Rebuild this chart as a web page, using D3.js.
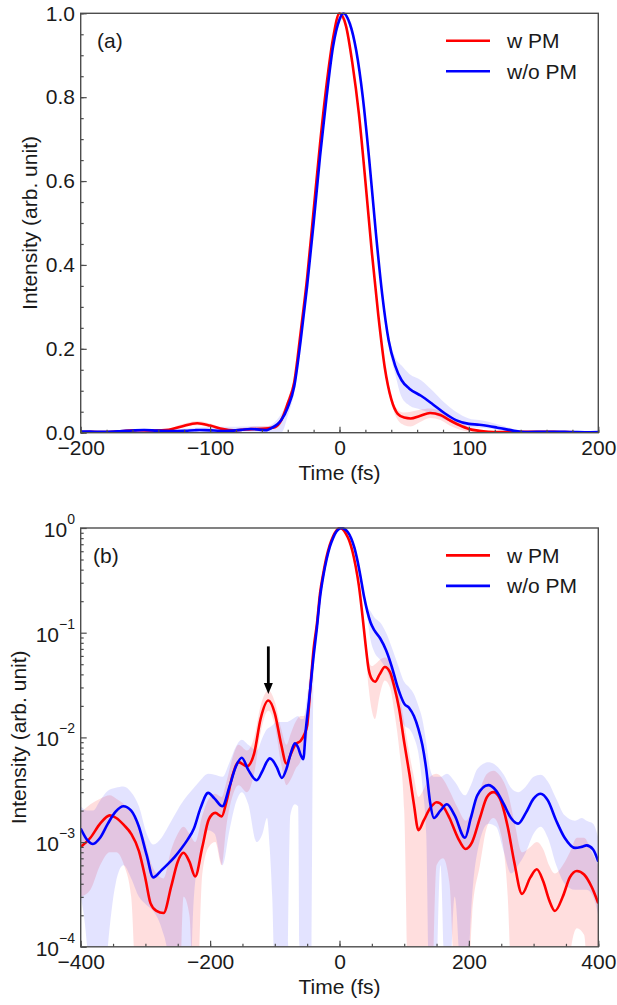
<!DOCTYPE html>
<html><head><meta charset="utf-8">
<script src="https://cdn.jsdelivr.net/npm/d3@7"></script>
<style>
body{margin:0;background:#fff}
svg{display:block}
text{font-family:"Liberation Sans",Arial,Helvetica,sans-serif;fill:#1a1a1a}
</style></head>
<body><svg id="c" width="617" height="1005"></svg>
<script>
// ---------------- data ----------------
const seriesLabels = ["w PM", "w/o PM"];
const seriesColors = ["#ff0000", "#0000ff"];

const wPMTime = [-400,-385,-370,-355,-345,-333,-322,-310,-300,-292,-283,-272,-260,-250,-241,-232,-223,-212,-202,-192,-182,-175,-165,-156,-143,-132,-122,-110,-100,-90,-82,-75,-68,-60,-55,-50,-45,-40,-35,-30,-25,-20,-15,-10,-5,0,5,10,15,20,25,30,35,40,45,50,55,62,70,78,85,92,100,108,115,122,130,140,150,160,170,183,195,205,217,228,238,248,260,270,282,295,305,315,324,333,345,356,367,378,390,400];
const wPMIntensity = [9.0e-4,1.1e-3,1.5e-3,1.8e-3,1.7e-3,1.45e-3,1.2e-3,8.2e-4,4.5e-4,2.6e-4,2.2e-4,2.1e-4,3.8e-4,6.5e-4,7.9e-4,6.5e-4,4.7e-4,9.0e-4,1.65e-3,1.9e-3,1.76e-3,2.4e-3,4.4e-3,5.8e-3,5.3e-3,7.0e-3,1.5e-2,2.25e-2,1.7e-2,8.5e-3,5.6e-3,7.0e-3,8.6e-3,9.3e-3,1.05e-2,1.3e-2,3.0e-2,7.0e-2,0.12,0.24,0.37,0.53,0.69,0.83,0.94,1.0,0.97,0.88,0.76,0.60,0.43,0.28,0.155,0.08,0.045,0.036,0.034,0.040,0.047,0.042,0.030,0.019,0.009,4.5e-3,2.3e-3,1.3e-3,1.6e-3,2.1e-3,2.4e-3,2.2e-3,1.7e-3,1.1e-3,8.6e-4,1.0e-3,1.7e-3,2.7e-3,3.0e-3,2.6e-3,1.4e-3,6.5e-4,3.2e-4,4.6e-4,5.5e-4,4.2e-4,2.8e-4,2.2e-4,3.0e-4,4.6e-4,5.3e-4,4.9e-4,3.7e-4,2.6e-4];
const wPMLower = [3.0e-4,3.5e-4,6e-4,8e-4,8e-4,6e-4,3e-4,1e-5,1e-5,1e-5,1e-5,1e-5,1e-5,1e-5,3e-4,2e-4,1e-5,5e-4,9e-4,1.0e-3,6e-4,1.4e-3,2.8e-3,3.5e-3,3.0e-3,4.5e-3,1.1e-2,1.8e-2,1.3e-2,5.5e-3,3.5e-3,4e-3,5e-3,6e-3,8e-3,1.0e-2,2.2e-2,6.0e-2,0.11,0.225,0.355,0.515,0.675,0.82,0.93,0.99,0.96,0.87,0.75,0.59,0.42,0.27,0.145,0.07,0.03,0.018,0.015,0.025,0.035,0.03,0.017,8e-3,2e-3,1e-5,1e-5,1e-5,1e-5,1e-5,6e-4,7e-4,4e-4,1e-5,1e-5,2e-4,6e-4,1.4e-3,1.7e-3,1.3e-3,3e-4,1e-5,1e-5,1e-5,1e-5,1e-5,1e-5,1e-5,1e-5,8e-5,1.5e-4,1.3e-4,1e-5,1e-5];
const wPMUpper = [1.9e-3,2.3e-3,2.6e-3,2.8e-3,2.6e-3,2.3e-3,1.9e-3,1.4e-3,1.0e-3,6.5e-4,5e-4,4.5e-4,8.5e-4,1.2e-3,1.4e-3,1.2e-3,1.0e-3,1.8e-3,2.6e-3,2.9e-3,2.7e-3,3.7e-3,6.5e-3,8.5e-3,7.5e-3,1.0e-2,2.0e-2,2.8e-2,2.2e-2,1.2e-2,8.5e-3,1.1e-2,1.4e-2,1.6e-2,1.6e-2,1.9e-2,3.8e-2,8.0e-2,0.135,0.255,0.385,0.545,0.705,0.84,0.95,1.0,0.98,0.89,0.77,0.61,0.44,0.29,0.165,0.09,0.055,0.048,0.05,0.055,0.058,0.052,0.04,0.027,0.014,7e-3,4.2e-3,2.7e-3,3.2e-3,4.2e-3,4.5e-3,4.0e-3,3.1e-3,2.1e-3,1.6e-3,2.0e-3,3.2e-3,4.5e-3,4.8e-3,4.3e-3,3.0e-3,1.6e-3,8e-4,9e-4,1.0e-3,8.5e-4,6e-4,5e-4,6e-4,8e-4,1.1e-3,1.1e-3,8e-4,6e-4];

const woPMTime = [-400,-390,-381,-370,-358,-346,-334,-322,-310,-298,-288,-275,-265,-255,-245,-235,-225,-215,-203,-193,-181,-170,-160,-151,-141,-128,-119,-112,-108,-104,-97,-89,-82,-76,-69,-64,-60,-56,-52,-48,-45,-40,-35,-30,-25,-20,-15,-10,-5,0,3,8,13,18,23,28,33,38,43,48,54,63,72,81,90,100,108,115,122,128,134,140,146,156,166,178,194,203,213,230,242,254,265,276,288,300,311,322,335,348,364,374,382,392,400];
const woPMIntensity = [1.35e-3,1.05e-3,9.6e-4,1.1e-3,1.5e-3,1.95e-3,2.2e-3,2.0e-3,1.4e-3,7.5e-4,4.6e-4,5.4e-4,6.2e-4,7.2e-4,8.6e-4,1.05e-3,1.35e-3,2.1e-3,2.95e-3,2.6e-3,2.2e-3,3.4e-3,5.3e-3,6.4e-3,4.9e-3,3.9e-3,4.8e-3,5.9e-3,6.3e-3,6.1e-3,5.2e-3,4.1e-3,5.0e-3,6.8e-3,8.8e-3,8.0e-3,6.8e-3,6.2e-3,1.2e-2,2.0e-2,3.0e-2,6.0e-2,0.11,0.22,0.35,0.50,0.66,0.80,0.92,0.985,1.0,0.975,0.91,0.80,0.65,0.48,0.33,0.22,0.16,0.125,0.105,0.088,0.068,0.047,0.030,0.021,0.019,0.016,0.012,8.5e-3,5.0e-3,2.4e-3,1.7e-3,2.0e-3,2.3e-3,1.8e-3,1.1e-3,1.7e-3,2.8e-3,3.5e-3,3.1e-3,2.3e-3,1.7e-3,1.5e-3,1.9e-3,2.6e-3,2.9e-3,2.5e-3,1.6e-3,1.1e-3,8.8e-4,9.0e-4,9.3e-4,8.5e-4,6.5e-4];
const woPMLower = [3e-4,1e-4,1e-5,1e-5,1e-4,4e-4,6e-4,4.5e-4,3e-4,2.5e-4,2.2e-4,1.5e-4,8e-5,1e-5,1e-5,1e-5,3e-4,8e-4,1.3e-3,1.2e-3,6e-4,1.3e-3,2.4e-3,3e-3,2.3e-3,1.0e-3,1.2e-3,1.7e-3,9e-4,3e-4,1e-5,1e-5,1e-5,1.8e-3,2.3e-3,2.2e-3,1e-5,1e-5,1e-5,1e-5,1e-5,0.04,0.095,0.205,0.335,0.485,0.645,0.79,0.91,0.975,0.99,0.965,0.9,0.79,0.64,0.47,0.315,0.205,0.14,0.085,0.065,0.055,0.045,0.032,0.02,0.013,0.012,0.01,0.007,3.5e-3,1.2e-3,1e-5,1e-5,6e-4,1e-5,3e-4,1e-5,2e-4,8e-4,1.5e-3,1.4e-3,8e-4,5e-4,6e-4,8e-4,1.2e-3,1.4e-3,1.1e-3,6e-4,4e-4,3.5e-4,3.5e-4,3.5e-4,3e-4,2e-4];
const woPMUpper = [2.2e-3,2.0e-3,2.0e-3,2.5e-3,3.1e-3,3.3e-3,3.4e-3,3.0e-3,2.2e-3,1.2e-3,9.5e-4,1.1e-3,1.4e-3,1.8e-3,2.3e-3,2.8e-3,3.3e-3,3.9e-3,4.5e-3,4.4e-3,4.2e-3,5.8e-3,8.2e-3,9.5e-3,8.5e-3,7.5e-3,1.0e-2,1.2e-2,1.25e-2,1.3e-2,1.4e-2,1.4e-2,1.4e-2,1.45e-2,1.55e-2,1.6e-2,1.5e-2,1.5e-2,2.0e-2,3.2e-2,4.5e-2,0.08,0.13,0.235,0.365,0.515,0.675,0.81,0.93,0.995,1.0,0.985,0.92,0.81,0.66,0.49,0.345,0.235,0.18,0.16,0.14,0.125,0.1,0.072,0.05,0.034,0.03,0.026,0.02,0.015,9e-3,5e-3,4.2e-3,4.2e-3,4.5e-3,3.8e-3,2.8e-3,3.5e-3,5.0e-3,5.8e-3,5.4e-3,4.4e-3,3.3e-3,3.0e-3,3.4e-3,4.2e-3,4.4e-3,3.8e-3,2.6e-3,1.8e-3,1.6e-3,1.7e-3,1.6e-3,1.5e-3,1.1e-3];

const linearTimeTicks = [-200,-100,0,100,200];
const linearIntensityTicks = [0,0.2,0.4,0.6,0.8,1.0];
const logTimeTicks = [-400,-200,0,200,400];
const logDecades = [0,-1,-2,-3,-4];
const arrowTime = -110, arrowFrom = 0.074, arrowTo = 0.026;

// ---------------- drawing ----------------
const svg = d3.select("#c");
const defs = svg.append("defs");
const L = 80.7, R = 598.3;
const AX = "#4d4d4d";
const FS = 21;
const minus = d => (d < 0 ? "\u2212" + Math.abs(d) : String(d));

const series = [
  {label: seriesLabels[0], color: seriesColors[0], band: "rgba(255,0,0,0.13)",
   pts: wPMTime.map((t,i)=>({t, v: wPMIntensity[i], lo: wPMLower[i], hi: wPMUpper[i]}))},
  {label: seriesLabels[1], color: seriesColors[1], band: "rgba(0,0,255,0.11)",
   pts: woPMTime.map((t,i)=>({t, v: woPMIntensity[i], lo: woPMLower[i], hi: woPMUpper[i]}))}
];

function panel(cfg) {
  const g = svg.append("g");
  const x = d3.scaleLinear().domain(cfg.xDomain).range([L, R]);
  const y = cfg.log
    ? d3.scaleLog().domain([1e-4, 1]).range([cfg.bottom, cfg.top])
    : d3.scaleLinear().domain([0, 1]).range([cfg.bottom, cfg.top]);
  const cid = "clip_" + cfg.id;
  defs.append("clipPath").attr("id", cid).append("rect")
    .attr("x", L).attr("y", cfg.top - 1).attr("width", R - L).attr("height", cfg.bottom - cfg.top + 1);
  const plot = g.append("g").attr("clip-path", `url(#${cid})`);
  const inX = d => d.t >= cfg.xDomain[0] - 60 && d.t <= cfg.xDomain[1] + 60;

  series.forEach(s => {
    const area = d3.area().x(d => x(d.t)).y0(d => y(d.lo)).y1(d => y(d.hi)).curve(d3.curveMonotoneX);
    plot.append("path").datum(s.pts.filter(inX)).attr("d", area).attr("fill", s.band).attr("stroke", "none");
  });
  series.forEach(s => {
    const line = d3.line().x(d => x(d.t)).y(d => y(d.v)).curve(d3.curveMonotoneX);
    plot.append("path").datum(s.pts.filter(inX)).attr("d", line)
      .attr("fill", "none").attr("stroke", s.color).attr("stroke-width", 2.6).attr("stroke-linejoin", "round");
  });

  // axes
  const xMinor = d3.axisBottom(x).tickValues(d3.range(cfg.xDomain[0], cfg.xDomain[1] + 1, cfg.xMinorStep)).tickSize(-3).tickFormat("");
  const xMajor = d3.axisBottom(x).tickValues(cfg.xTicks).tickSize(-6).tickPadding(7.5).tickFormat(minus);
  [xMinor, xMajor].forEach(a => {
    const ag = g.append("g").attr("transform", `translate(0,${cfg.bottom})`).call(a);
    ag.select(".domain").remove();
    ag.selectAll("line").attr("stroke", AX).attr("stroke-width", 1.2);
    ag.selectAll("text").attr("font-size", FS).attr("fill", "#1a1a1a")
      .attr("font-family", '"Liberation Sans",Arial,sans-serif');
  });

  if (!cfg.log) {
    const yMinor = d3.axisLeft(y).tickValues(d3.range(0, 1.0001, 0.05)).tickSize(-3).tickFormat("");
    const yMajor = d3.axisLeft(y).tickValues(linearIntensityTicks).tickSize(-6).tickPadding(5.7).tickFormat(d3.format(".1f"));
    [yMinor, yMajor].forEach(a => {
      const ag = g.append("g").attr("transform", `translate(${L},0)`).call(a);
      ag.select(".domain").remove();
      ag.selectAll("line").attr("stroke", AX).attr("stroke-width", 1.2);
      ag.selectAll("text").attr("font-size", FS).attr("fill", "#1a1a1a")
        .attr("font-family", '"Liberation Sans",Arial,sans-serif');
    });
  } else {
    const minorVals = [];
    logDecades.forEach(e => { if (e < 0) for (let k = 2; k <= 9; k++) minorVals.push(k * Math.pow(10, e)); });
    const yMinor = d3.axisLeft(y).tickValues(minorVals).tickSize(-3).tickFormat("");
    const yMajor = d3.axisLeft(y).tickValues(logDecades.map(e => Math.pow(10, e))).tickSize(-6).tickFormat("");
    [yMinor, yMajor].forEach(a => {
      const ag = g.append("g").attr("transform", `translate(${L},0)`).call(a);
      ag.select(".domain").remove();
      ag.selectAll("line").attr("stroke", AX).attr("stroke-width", 1.2);
    });
    logDecades.forEach(e => {
      const t = g.append("text").attr("x", 75).attr("y", y(Math.pow(10, e)) + 9)
        .attr("text-anchor", "end").attr("font-size", FS);
      t.append("tspan").text("10");
      t.append("tspan").attr("font-size", 14).attr("dy", -13).text(minus(e));
    });
  }

  // frame
  g.append("rect").attr("x", L).attr("y", cfg.top).attr("width", R - L).attr("height", cfg.bottom - cfg.top)
    .attr("fill", "none").attr("stroke", AX).attr("stroke-width", 1.4);

  // titles
  g.append("text").attr("x", (L + R) / 2).attr("y", cfg.bottom + 47).attr("text-anchor", "middle")
    .attr("font-size", FS).text("Time (fs)");
  g.append("text").attr("transform", `translate(${cfg.yLabelX},${(cfg.top + cfg.bottom) / 2}) rotate(-90)`)
    .attr("text-anchor", "middle").attr("font-size", FS).text("Intensity (arb. unit)");
  g.append("text").attr("x", cfg.tagX).attr("y", cfg.top + 34.5).attr("font-size", FS).text(cfg.tag);

  // legend
  series.forEach((s, i) => {
    const ly = cfg.top + 27.4 + i * 30.5;
    g.append("line").attr("x1", 446).attr("x2", 490).attr("y1", ly).attr("y2", ly)
      .attr("stroke", s.color).attr("stroke-width", 2.6);
    g.append("text").attr("x", 507).attr("y", ly + 7.5).attr("font-size", FS).text(s.label);
  });
  return {x, y, g};
}

panel({id: "a", tag: "(a)", tagX: 97, top: 13.3, bottom: 432.7, xDomain: [-200, 200], xTicks: linearTimeTicks, xMinorStep: 20, log: false, yLabelX: 37});
const pb = panel({id: "b", tag: "(b)", tagX: 93, top: 528, bottom: 946.8, xDomain: [-400, 400], xTicks: logTimeTicks, xMinorStep: 50, log: true, yLabelX: 25.5});

// arrow
const ax = pb.x(arrowTime), ay0 = pb.y(arrowFrom), ay1 = pb.y(arrowTo);
pb.g.append("line").attr("x1", ax).attr("x2", ax).attr("y1", ay0).attr("y2", ay1 - 9)
  .attr("stroke", "#000").attr("stroke-width", 2.8);
pb.g.append("path").attr("d", `M${ax - 4.5},${ay1 - 11} L${ax + 4.5},${ay1 - 11} L${ax},${ay1} Z`).attr("fill", "#000");
</script></body></html>
